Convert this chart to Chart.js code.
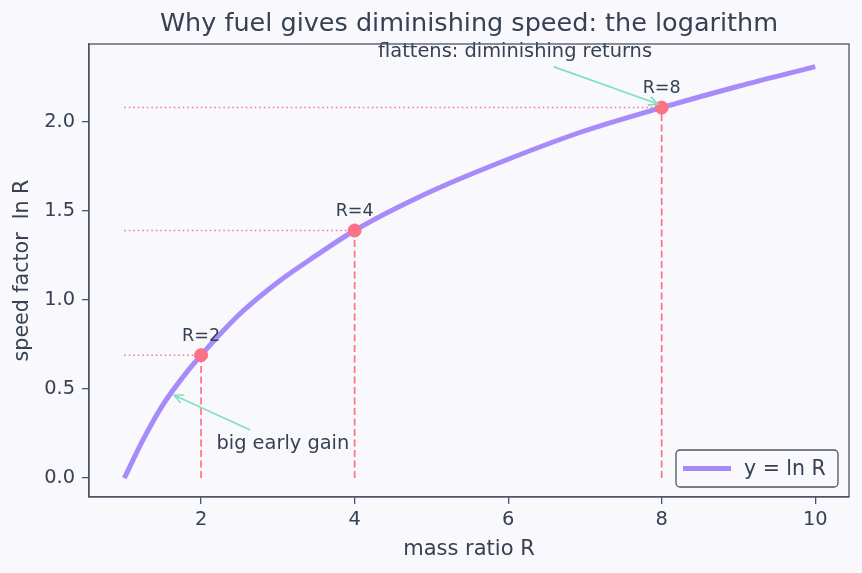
<!DOCTYPE html>
<html>
<head>
<meta charset="utf-8">
<script src="https://cdn.jsdelivr.net/npm/chart.js@4.4.1/dist/chart.umd.min.js"></script>
<style>
  html, body { margin: 0; padding: 0; background: #f9f9fd; }
  #wrap { width: 862px; height: 573px; }
</style>
</head>
<body>
<div id="wrap"><canvas id="lnChart"></canvas></div>
<script>
// values
const massRatio = [1, 1.25, 1.5, 1.75, 2, 2.5, 3, 3.5, 4, 5, 6, 7, 8, 9, 10];
const speedFactor = [0, 0.22, 0.41, 0.56, 0.69, 0.92, 1.10, 1.25, 1.39, 1.61, 1.79, 1.95, 2.08, 2.20, 2.31];
const markerR = [2, 4, 8];
const markerLn = [0.69, 1.39, 2.08];
const markerLabels = ['R=2', 'R=4', 'R=8'];
const xTicks = [2, 4, 6, 8, 10];
const yTicks = [0, 0.5, 1.0, 1.5, 2.0];

const textColor = '#374151';
const axisColor = '#4b5563';
const curveColor = '#a78bfa';
const pink = '#fb7185';
const arrowColor = '#7fe0bd';
const font = 'DejaVu Sans';
const titleText = 'Why fuel gives diminishing speed: the logarithm';

// dashed drops and dotted guides, split with nulls
const drops = [];
const guides = [];
markerR.forEach((r, i) => {
    drops.push({x: r, y: 0}, {x: r, y: markerLn[i]}, {x: r, y: null});
    guides.push({x: 1, y: markerLn[i]}, {x: r, y: markerLn[i]}, {x: r, y: null});
});

const bgPlugin = {
    id: 'bg',
    beforeDraw(chart) {
        const c = chart.ctx;
        c.save();
        c.fillStyle = '#f9f9fd';
        c.fillRect(0, 0, chart.width, chart.height);
        c.restore();
    }
};

function arrow(c, x1, y1, x2, y2) {
    c.beginPath();
    c.moveTo(x1, y1);
    c.lineTo(x2, y2);
    c.stroke();
    const a = Math.atan2(y2 - y1, x2 - x1);
    const L = 10;
    c.beginPath();
    c.moveTo(x2 - L * Math.cos(a - 0.45), y2 - L * Math.sin(a - 0.45));
    c.lineTo(x2, y2);
    c.lineTo(x2 - L * Math.cos(a + 0.45), y2 - L * Math.sin(a + 0.45));
    c.stroke();
}

const notesPlugin = {
    id: 'notes',
    afterDatasetsDraw(chart) {
        const c = chart.ctx;
        const xs = chart.scales.x, ys = chart.scales.y;
        const area = chart.chartArea;
        c.save();
        // title, centred over the plot area
        c.fillStyle = textColor;
        c.font = '25.5px "' + font + '"';
        c.textAlign = 'center';
        c.textBaseline = 'middle';
        c.fillText(titleText, (area.left + area.right) / 2, 24);
        // marker labels
        c.font = '17.5px "' + font + '"';
        c.textBaseline = 'bottom';
        markerR.forEach((r, i) => {
            c.fillText(markerLabels[i], xs.getPixelForValue(r), ys.getPixelForValue(markerLn[i]) - 10);
        });
        // annotations
        c.strokeStyle = arrowColor;
        c.lineWidth = 1.6;
        arrow(c, xs.getPixelForValue(2.64), ys.getPixelForValue(0.27), xs.getPixelForValue(1.65), ys.getPixelForValue(0.465));
        arrow(c, xs.getPixelForValue(6.59), ys.getPixelForValue(2.31), xs.getPixelForValue(7.95), ys.getPixelForValue(2.10));
        c.font = '19.4px "' + font + '"';
        c.textBaseline = 'middle';
        c.textAlign = 'left';
        c.fillText('big early gain', xs.getPixelForValue(2.2), ys.getPixelForValue(0.19));
        c.textAlign = 'center';
        c.fillText('flattens: diminishing returns', xs.getPixelForValue(6.09), ys.getPixelForValue(2.39));
        // frame
        c.strokeStyle = axisColor;
        c.lineWidth = 1.3;
        c.strokeRect(area.left, area.top, area.right - area.left, area.bottom - area.top);
        // legend box
        const bx = area.right - 173, by = area.bottom - 47, bw = 162, bh = 37;
        c.fillStyle = '#f9f9fd';
        c.strokeStyle = axisColor;
        c.lineWidth = 1.3;
        c.beginPath();
        c.roundRect(bx, by, bw, bh, 4);
        c.fill();
        c.stroke();
        c.strokeStyle = curveColor;
        c.lineWidth = 5;
        c.beginPath();
        c.moveTo(bx + 7, by + bh / 2);
        c.lineTo(bx + 55, by + bh / 2);
        c.stroke();
        c.fillStyle = textColor;
        c.font = '20.5px "' + font + '"';
        c.textAlign = 'left';
        c.fillText('y = ln R', bx + 68, by + bh / 2 + 1);
        c.restore();
    }
};

const ctx = document.getElementById('lnChart').getContext('2d');
const lnChart = new Chart(ctx, {
    type: 'line',
    data: {
        datasets: [
            {
                label: 'y = ln R',
                data: massRatio.map((r, i) => ({x: r, y: speedFactor[i]})),
                borderColor: curveColor,
                borderWidth: 5,
                pointRadius: 0,
                cubicInterpolationMode: 'monotone',
                order: 2
            },
            {
                label: 'drops',
                data: drops,
                borderColor: pink,
                borderWidth: 1.7,
                borderDash: [7, 3.5],
                pointRadius: 0,
                spanGaps: false,
                order: 3
            },
            {
                label: 'guides',
                data: guides,
                borderColor: pink,
                borderWidth: 1.5,
                borderDash: [1.5, 3],
                pointRadius: 0,
                spanGaps: false,
                order: 3
            },
            {
                label: 'markers',
                data: markerR.map((r, i) => ({x: r, y: markerLn[i]})),
                showLine: false,
                pointRadius: 6.5,
                pointBackgroundColor: pink,
                pointBorderColor: pink,
                order: 1
            }
        ]
    },
    options: {
        responsive: true,
        maintainAspectRatio: false,
        animation: false,
        layout: { padding: { left: 0, right: 13, top: 44, bottom: 0 } },
        plugins: {
            legend: { display: false },
            tooltip: { enabled: false },
            title: { display: false }
        },
        scales: {
            x: {
                type: 'linear',
                min: 0.54,
                max: 10.44,
                afterBuildTicks: axis => { axis.ticks = xTicks.map(v => ({value: v})); },
                afterFit: s => { s.height = 76; },
                grid: { drawOnChartArea: false, drawTicks: true, tickLength: 7, color: axisColor, lineWidth: 1.3 },
                border: { color: axisColor, width: 1.3 },
                ticks: { color: textColor, font: { family: font, size: 19.4 }, padding: 4 },
                title: { display: true, text: 'mass ratio R', color: textColor, font: { family: font, size: 21 }, padding: { top: 0, bottom: 11 } }
            },
            y: {
                min: -0.106,
                max: 2.437,
                afterBuildTicks: axis => { axis.ticks = yTicks.map(v => ({value: v})); },
                afterFit: s => { s.width = 89; },
                grid: { drawOnChartArea: false, drawTicks: true, tickLength: 7, color: axisColor, lineWidth: 1.3 },
                border: { color: axisColor, width: 1.3 },
                ticks: { color: textColor, font: { family: font, size: 19.4 }, padding: 7, callback: v => v.toFixed(1) },
                title: { display: true, text: 'speed factor  ln R', color: textColor, font: { family: font, size: 20.6 }, padding: { top: 10, bottom: 0 } }
            }
        }
    },
    plugins: [bgPlugin, notesPlugin]
});
</script>
</body>
</html>
